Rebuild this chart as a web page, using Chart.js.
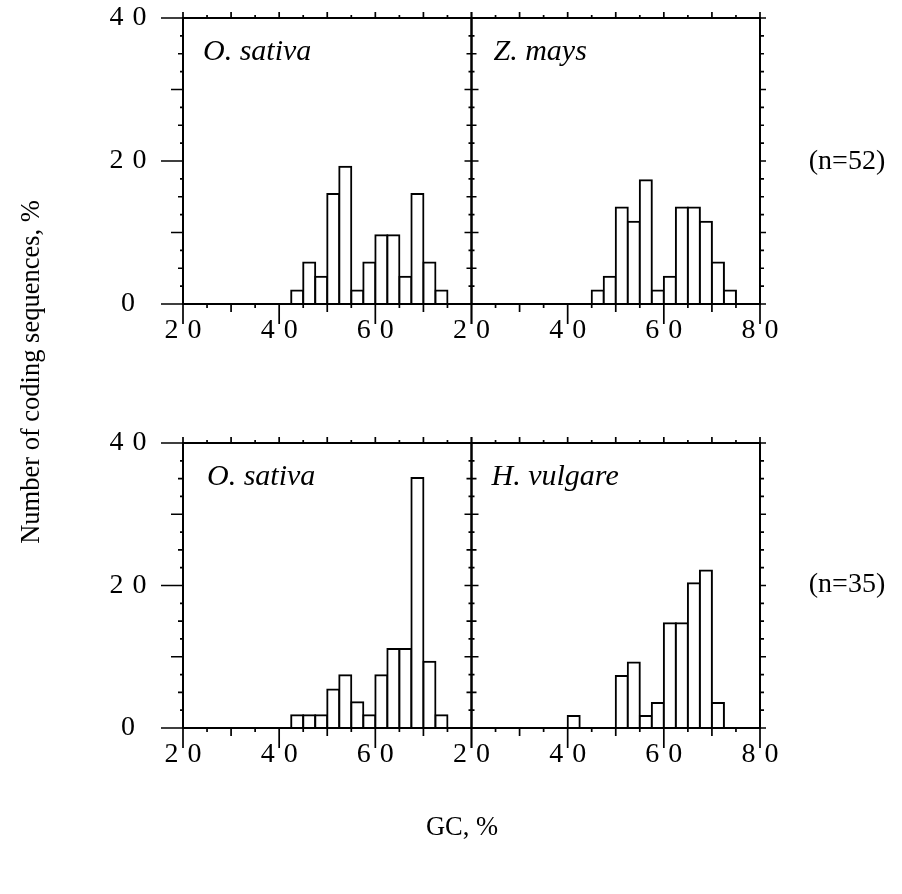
<!DOCTYPE html>
<html>
<head>
<meta charset="utf-8">
<script src="https://cdn.jsdelivr.net/npm/chart.js@4"></script>
<style>
  html, body { margin: 0; padding: 0; background: #fff; }
  #wrap { position: relative; width: 902px; height: 894px; }
  #wrap canvas { position: absolute; left: 0; top: 0; }
</style>
</head>
<body>
<div id="wrap">
  <canvas id="c1" width="902" height="894"></canvas>
  <canvas id="c2" width="902" height="894"></canvas>
  <canvas id="c3" width="902" height="894"></canvas>
  <canvas id="c4" width="902" height="894"></canvas>
</div>
<script>
// ---- data (GC% bin lower edges, bin width 2.5; values in %) ----
const BIN_WIDTH = 2.5;
const xTickLabels = [20, 40, 60, 80];
const yTickLabels = [0, 20, 40];

const sativa52Bins   = [42.5, 45, 47.5, 50, 52.5, 55, 57.5, 60, 62.5, 65, 67.5, 70, 72.5];
const sativa52Values = [1.9, 5.8, 3.8, 15.4, 19.2, 1.9, 5.8, 9.6, 9.6, 3.8, 15.4, 5.8, 1.9];

const maysBins   = [45, 47.5, 50, 52.5, 55, 57.5, 60, 62.5, 65, 67.5, 70, 72.5];
const maysValues = [1.9, 3.8, 13.5, 11.5, 17.3, 1.9, 3.8, 13.5, 13.5, 11.5, 5.8, 1.9];

const sativa35Bins   = [42.5, 45, 47.5, 50, 52.5, 55, 57.5, 60, 62.5, 65, 67.5, 70, 72.5];
const sativa35Values = [1.8, 1.8, 1.8, 5.4, 7.4, 3.6, 1.8, 7.4, 11.1, 11.1, 35.1, 9.3, 1.8];

const vulgareBins   = [40, 50, 52.5, 55, 57.5, 60, 62.5, 65, 67.5, 70];
const vulgareValues = [1.7, 7.3, 9.2, 1.7, 3.5, 14.7, 14.7, 20.3, 22.1, 3.5];

const panelLabels = ['O. sativa', 'Z. mays', 'O. sativa', 'H. vulgare'];
const nLabels = ['(n=52)', '(n=35)'];
const yTitle = 'Number of coding sequences, %';
const xTitle = 'GC, %';

// ---- layout ----
const W = 902, H = 894;
const XL = 183, XM = 471.5, XR = 760;
const TOP1 = 18, BOT1 = 304, TOP2 = 443, BOT2 = 728;
const TICK_FONT = '28px "Liberation Serif", "Times New Roman", serif';
const LABEL_FONT = 'italic 30px "Liberation Serif", "Times New Roman", serif';
const TEXT_FONT = '28px "Liberation Serif", "Times New Roman", serif';
const TITLE_FONT = '26.5px "Liberation Serif", "Times New Roman", serif';

function drawSpaced(ctx, text, cx, cy, spacing) {
  const chars = String(text).split('');
  const widths = chars.map(c => ctx.measureText(c).width);
  const total = widths.reduce((a, b) => a + b, 0) + spacing * (chars.length - 1);
  let x = cx - total / 2;
  ctx.textAlign = 'left';
  ctx.textBaseline = 'middle';
  chars.forEach((c, i) => { ctx.fillText(c, x, cy); x += widths[i] + spacing; });
}

const framePlugin = {
  id: 'frame',
  afterDatasetsDraw(chart, args, o) {
    const ctx = chart.ctx;
    const xs = chart.scales.x, ys = chart.scales.y;
    const L = xs.getPixelForValue(20), R = xs.getPixelForValue(80);
    const T = ys.getPixelForValue(40), B = ys.getPixelForValue(0);
    ctx.save();
    ctx.strokeStyle = '#000';
    ctx.fillStyle = '#000';
    ctx.lineWidth = 2;
    ctx.strokeRect(L, T, R - L, B - T);
    ctx.lineWidth = 1.7;
    ctx.beginPath();
    // x ticks bottom (down) and top (up)
    for (let v = 20; v <= 80; v += 5) {
      const px = xs.getPixelForValue(v);
      const lenB = (v % 20 === 0) ? 20 : (v % 10 === 0 ? 8 : 4);
      ctx.moveTo(px, B); ctx.lineTo(px, B + lenB);
      const lenT = (v % 10 === 0) ? 6 : 3;
      ctx.moveTo(px, T); ctx.lineTo(px, T - lenT);
    }
    // y ticks
    for (let v = 0; v <= 40; v += 2.5) {
      const py = ys.getPixelForValue(v);
      if (o.leftOut) {
        const len = (v % 20 === 0) ? 22 : (v % 10 === 0 ? 12 : (v % 5 === 0 ? 5 : 3));
        ctx.moveTo(L - len, py); ctx.lineTo(L, py);
      }
      if (o.rightCross) {
        const len = (v % 10 === 0) ? 7 : (v % 5 === 0 ? 5 : 3);
        ctx.moveTo(R - len, py); ctx.lineTo(R + len, py);
      }
      if (o.rightOut) {
        const len = (v % 10 === 0) ? 6 : 4;
        ctx.moveTo(R, py); ctx.lineTo(R + len, py);
      }
    }
    ctx.stroke();
    // tick labels
    ctx.font = TICK_FONT;
    o.xLabels.forEach(v => drawSpaced(ctx, v, xs.getPixelForValue(v), B + 27, 9));
    if (o.leftOut) {
      yTickLabels.forEach(v => drawSpaced(ctx, v, 128, ys.getPixelForValue(v), 9));
    }
    // panel label
    ctx.font = LABEL_FONT;
    ctx.textAlign = 'left';
    ctx.textBaseline = 'alphabetic';
    ctx.fillText(o.label, L + o.labelDx, T + 42);
    // global texts
    if (o.globals) {
      ctx.font = TEXT_FONT;
      ctx.textAlign = 'center';
      ctx.textBaseline = 'middle';
      ctx.fillText(nLabels[0], 847, 162);
      ctx.fillText(nLabels[1], 847, 585);
      ctx.font = TITLE_FONT;
      ctx.fillText(xTitle, 462, 828);
      ctx.save();
      ctx.translate(32, 372);
      ctx.rotate(-Math.PI / 2);
      ctx.fillText(yTitle, 0, 0);
      ctx.restore();
    }
    ctx.restore();
  }
};

function makePanel(id, box, bins, values, opts) {
  const data = bins.map((b, i) => ({ x: b + BIN_WIDTH / 2, y: values[i] }));
  return new Chart(document.getElementById(id), {
    type: 'bar',
    data: {
      datasets: [{
        data: data,
        backgroundColor: '#fff',
        borderColor: '#000',
        borderWidth: 2,
        barPercentage: 1,
        categoryPercentage: 1,
        inflateAmount: 1
      }]
    },
    options: {
      responsive: false,
      devicePixelRatio: 1,
      animation: false,
      events: [],
      layout: { padding: { left: box.l, top: box.t, right: W - box.r, bottom: H - box.b } },
      plugins: { legend: { display: false }, tooltip: { enabled: false }, frame: opts },
      scales: {
        x: { type: 'linear', min: 20, max: 80, offset: false, display: false, ticks: { stepSize: 5 } },
        y: { type: 'linear', min: 0, max: 40, display: false, ticks: { stepSize: 10 } }
      }
    },
    plugins: [framePlugin]
  });
}

makePanel('c1', { l: XL, r: XM, t: TOP1, b: BOT1 }, sativa52Bins, sativa52Values,
  { leftOut: true, rightCross: true, rightOut: false, xLabels: [20, 40, 60], label: panelLabels[0], labelDx: 20, globals: false });
makePanel('c2', { l: XM, r: XR, t: TOP1, b: BOT1 }, maysBins, maysValues,
  { leftOut: false, rightCross: false, rightOut: true, xLabels: xTickLabels, label: panelLabels[1], labelDx: 22, globals: false });
makePanel('c3', { l: XL, r: XM, t: TOP2, b: BOT2 }, sativa35Bins, sativa35Values,
  { leftOut: true, rightCross: true, rightOut: false, xLabels: [20, 40, 60], label: panelLabels[2], labelDx: 24, globals: false });
makePanel('c4', { l: XM, r: XR, t: TOP2, b: BOT2 }, vulgareBins, vulgareValues,
  { leftOut: false, rightCross: false, rightOut: true, xLabels: xTickLabels, label: panelLabels[3], labelDx: 20, globals: true });
</script>
</body>
</html>
